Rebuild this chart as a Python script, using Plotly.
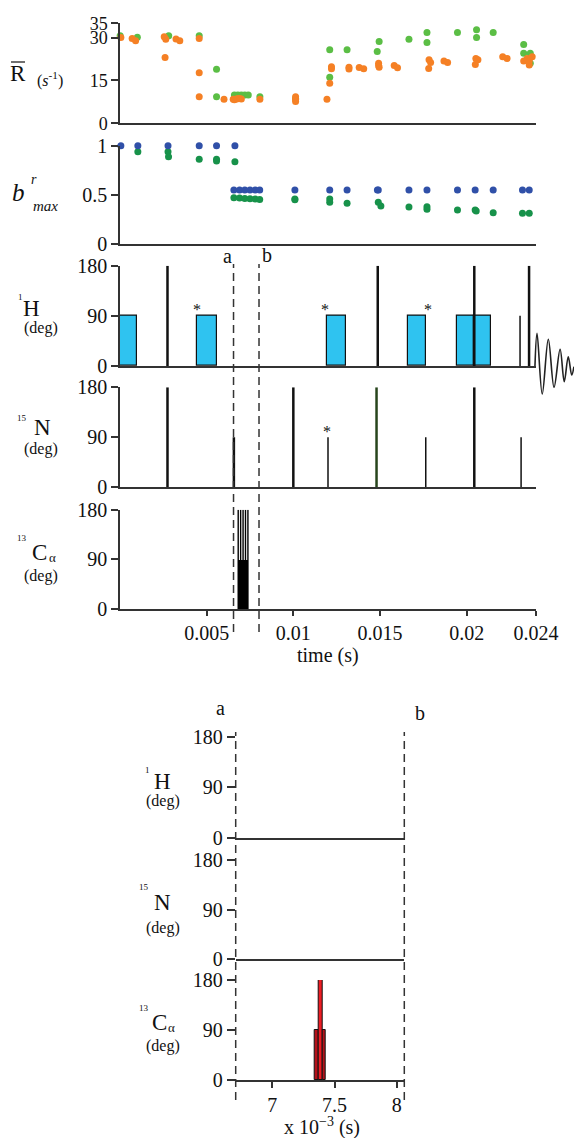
import plotly.graph_objects as go

# ---------------- data ----------------
# R-bar panel (time s, R s^-1)
R_green_t = [0.00001, 0.001, 0.00281, 0.00457, 0.00557, 0.00557, 0.0066, 0.0068, 0.007, 0.0072, 0.0074,
             0.00807, 0.01013, 0.0121, 0.0121, 0.0131, 0.01495, 0.01484, 0.01667, 0.01771, 0.01771,
             0.01947, 0.02057, 0.02057, 0.02153, 0.02329, 0.02329, 0.02367, 0.02367]
R_green_v = [30.6, 30.1, 30.6, 30.6, 18.9, 9.3, 9.9, 9.9, 9.9, 9.9, 9.9,
             9.3, 8.7, 25.7, 16.1, 25.7, 28.6, 25.1, 29.4, 31.8, 28.3,
             31.8, 32.7, 30.0, 31.8, 27.6, 24.5, 24.5, 21.0]
R_orange_t = [0.00005, 0.0007, 0.0009, 0.00255, 0.00264, 0.0026, 0.00323, 0.00345, 0.00457, 0.00457, 0.00457,
              0.006, 0.00653, 0.0066, 0.0067, 0.0068, 0.0069, 0.007, 0.00807, 0.01013, 0.01013, 0.01013,
              0.01194, 0.0121, 0.0122, 0.0122, 0.01321, 0.01321, 0.0138, 0.01406, 0.01492, 0.01492, 0.01495,
              0.01582, 0.01601, 0.01783, 0.01792, 0.01781, 0.01869, 0.0189, 0.02053, 0.02065, 0.0205,
              0.02208, 0.02233, 0.02329, 0.02349, 0.02361, 0.02378, 0.02361]
R_orange_v = [30.0, 29.7, 28.9, 30.3, 29.4, 23.0, 29.5, 28.9, 29.7, 17.7, 9.3,
              8.4, 8.4, 8.2, 8.5, 8.6, 8.7, 8.5, 8.4, 7.6, 8.4, 9.3,
              8.4, 14.0, 19.8, 19.1, 19.6, 19.0, 19.5, 19.1, 21.0, 20.2, 19.6,
              20.2, 19.4, 22.2, 21.3, 19.2, 21.8, 21.3, 22.7, 22.2, 20.6,
              23.3, 22.7, 21.8, 22.7, 20.4, 23.3, 21.8]

# b_max panel
B_blue_t = [0.00005, 0.00103, 0.00277, 0.00457, 0.00557, 0.00663,
            0.00657, 0.0069, 0.0072, 0.0075, 0.0078, 0.00806,
            0.01009, 0.0121, 0.0131, 0.01485, 0.0149, 0.01667, 0.01771, 0.01947,
            0.02049, 0.02153, 0.02322, 0.02361, 0.02414]
B_blue_v = [1.0, 1.0, 1.0, 1.0, 1.0, 1.0,
            0.551, 0.551, 0.551, 0.551, 0.551, 0.551,
            0.551, 0.551, 0.551, 0.551, 0.551, 0.551, 0.551, 0.551,
            0.551, 0.551, 0.551, 0.551, 0.534]
B_green_t = [0.00103, 0.00277, 0.0028, 0.00457, 0.00557, 0.00557, 0.00663,
             0.00657, 0.0069, 0.0072, 0.0075, 0.0078, 0.00806,
             0.01009, 0.01009, 0.0121, 0.0121, 0.0131, 0.0149, 0.01505, 0.01667,
             0.01771, 0.01771, 0.01947, 0.02049, 0.02055, 0.02153, 0.02322, 0.02361, 0.02414]
B_green_v = [0.939, 0.939, 0.888, 0.862, 0.862, 0.845, 0.838,
             0.473, 0.47, 0.465, 0.462, 0.459, 0.455,
             0.459, 0.452, 0.459, 0.426, 0.416, 0.426, 0.388, 0.378,
             0.381, 0.355, 0.348, 0.348, 0.338, 0.321, 0.314, 0.314, 0.304]

# 1H pulses
H_bar_start = [0.0, 0.00445, 0.01194, 0.01662, 0.01942, 0.02044]
H_bar_end = [0.00097, 0.0056, 0.01306, 0.01764, 0.02044, 0.02142]
H_bar_deg = [90, 90, 90, 90, 90, 90]
H_hard_t = [0.00274, 0.01487, 0.02044, 0.0236]
H_hard_deg = [180, 180, 180, 180]
H_thin_t = [0.02308]
H_thin_deg = [90]
H_star_t = [0.00447, 0.01185, 0.01775]
# FID (peaks)
FID_t = [0.02394, 0.02406, 0.02436, 0.02471, 0.02504, 0.02539, 0.02563, 0.02586, 0.02606, 0.02619]
FID_v = [0, 58.7, -50.2, 47.9, -38.2, 30.0, -28.2, 16.7, -16.2, -1.3]

# 15N pulses
N_thick_t = [0.00274, 0.00657, 0.0100, 0.02044]
N_thick_deg = [180, 90, 180, 180]
N_green_t = [0.0148]
N_green_deg = [180]
N_thin_t = [0.0120, 0.01764, 0.02314]
N_thin_deg = [90, 90, 90]
N_star_t = [0.01196]

# 13C pulses (top)
C_block = [0.00681, 0.0074]
C_block_deg = 90
C_stripe_t = [0.00682, 0.00696, 0.0071, 0.00724, 0.00738]
C_stripe_deg = [180, 180, 180, 180, 180]

# windows a / b
win_top = {"a": 0.00655, "b": 0.00802}

# zoomed 13C (ms)
Cz_start = [7.343, 7.370, 7.406]
Cz_end = [7.370, 7.406, 7.426]
Cz_deg = [90, 180, 90]
Cz_col = ["#B3121A", "#EE1C24", "#B3121A"]

top_ticks = [0.005, 0.01, 0.015, 0.02, 0.024]
top_ticktext = ["0.005", "0.01", "0.015", "0.02", "0.024"]
zoom_ticks = [7, 7.5, 8]
zoom_ticktext = ["7", "7.5", "8"]
deg_ticks = [0, 90, 180]

# ---------------- layout helpers ----------------
W, H = 574, 1138
FONT = "Liberation Serif, Times New Roman, serif"
def px(x):
    return x / W
def py(y):
    return 1 - y / H

fig = go.Figure()

def lines(t, d, ax, width, color="#111"):
    xs, ys = [], []
    for ti, di in zip(t, d):
        xs += [ti, ti, None]
        ys += [0, di, None]
    fig.add_trace(go.Scatter(x=xs, y=ys, mode="lines", line=dict(color=color, width=width),
                             xaxis="x" + ax, yaxis="y" + ax, hoverinfo="skip"))

# R panel
fig.add_trace(go.Scatter(x=R_green_t, y=R_green_v, mode="markers", marker=dict(color="#5BBE45", size=7),
                         xaxis="x", yaxis="y", cliponaxis=False))
fig.add_trace(go.Scatter(x=R_orange_t, y=R_orange_v, mode="markers", marker=dict(color="#F58025", size=7),
                         xaxis="x", yaxis="y", cliponaxis=False))
# b panel
fig.add_trace(go.Scatter(x=B_green_t, y=B_green_v, mode="markers", marker=dict(color="#17924A", size=7),
                         xaxis="x2", yaxis="y2", cliponaxis=False))
fig.add_trace(go.Scatter(x=B_blue_t, y=B_blue_v, mode="markers", marker=dict(color="#3050A8", size=7),
                         xaxis="x2", yaxis="y2", cliponaxis=False))

# 1H
fig.add_trace(go.Bar(x=[(s + e) / 2 for s, e in zip(H_bar_start, H_bar_end)], y=H_bar_deg,
                     width=[e - s for s, e in zip(H_bar_start, H_bar_end)],
                     marker=dict(color="#2FC3F0", line=dict(color="#111", width=1.2)),
                     xaxis="x3", yaxis="y3"))
lines(H_hard_t, H_hard_deg, "3", 2.5)
lines(H_thin_t, H_thin_deg, "3", 1.5)
fig.add_trace(go.Scatter(x=FID_t, y=FID_v, mode="lines", line=dict(color="#222", width=1.6, shape="spline"),
                         xaxis="x9", yaxis="y9"))

# 15N
lines(N_thick_t, N_thick_deg, "4", 2.5)
lines(N_green_t, N_green_deg, "4", 2.5, color="#27451c")
lines(N_thin_t, N_thin_deg, "4", 1.5)

# 13C top
fig.add_trace(go.Bar(x=[(C_block[0] + C_block[1]) / 2], y=[C_block_deg], width=[C_block[1] - C_block[0]],
                     marker=dict(color="#000", line=dict(width=0)), xaxis="x5", yaxis="y5"))
lines(C_stripe_t, C_stripe_deg, "5", 1.4, color="#000")

# zoomed 13C
fig.add_trace(go.Bar(x=[(s + e) / 2 for s, e in zip(Cz_start, Cz_end)], y=Cz_deg,
                     width=[e - s for s, e in zip(Cz_start, Cz_end)],
                     marker=dict(color=Cz_col, line=dict(color="#111", width=1)),
                     xaxis="x8", yaxis="y8"))
# empty traces to activate zoom panels
fig.add_trace(go.Scatter(x=[7.0], y=[0], mode="markers", marker=dict(size=0.1, opacity=0), xaxis="x6", yaxis="y6"))
fig.add_trace(go.Scatter(x=[7.0], y=[0], mode="markers", marker=dict(size=0.1, opacity=0), xaxis="x7", yaxis="y7"))

# ---------------- axes ----------------
tickfont = dict(family=FONT, size=20, color="#111")
XD = [px(120), px(536)]
def xtop(show_ticks=False, anchor="y"):
    d = dict(domain=XD, range=[0, 0.024], showgrid=False, zeroline=False, showline=True,
             linecolor="#333", linewidth=1.5, anchor=anchor, fixedrange=True, automargin=False)
    if show_ticks:
        d.update(ticks="outside", ticklen=5, tickwidth=1.5, tickcolor="#333", tickvals=top_ticks,
                 ticktext=top_ticktext, tickfont=tickfont)
    else:
        d.update(showticklabels=False, ticks="")
    return d

def yax(bottom, top, rng, tv, tt=None, anchor="x", line=True, tl=7, fs=20):
    d = dict(domain=[py(bottom), py(top)], range=rng, showgrid=False, zeroline=False, showline=line,
             linecolor="#333", linewidth=1.5, ticks="outside", ticklen=tl, tickwidth=1.5, tickcolor="#333",
             tickvals=tv, tickfont=dict(family=FONT, size=fs, color="#111"), anchor=anchor, fixedrange=True,
             automargin=False)
    if tt is not None:
        d["ticktext"] = tt
    return d

XZ = [px(235.7), px(404.3)]
def xzoom(show_ticks, anchor):
    d = dict(domain=XZ, range=[6.706, 8.061], showgrid=False, zeroline=False, showline=True,
             linecolor="#333", linewidth=1.5, anchor=anchor, fixedrange=True, automargin=False)
    if show_ticks:
        d.update(ticks="outside", ticklen=6, tickwidth=1.5, tickcolor="#333", tickvals=zoom_ticks,
                 ticktext=zoom_ticktext, tickfont=tickfont)
    else:
        d.update(showticklabels=False, ticks="")
    return d

fig.update_layout(
    xaxis=xtop(anchor="y"), yaxis=yax(123.3, 23.3, [0, 35], [0, 15, 30, 35], anchor="x", fs=18),
    xaxis2=xtop(anchor="y2"), yaxis2=yax(244.3, 145.7, [0, 1], [0, 0.5, 1], ["0", "0.5", "1"], anchor="x2"),
    xaxis3=xtop(anchor="y3"), yaxis3=yax(366, 265.7, [0, 180], deg_ticks, anchor="x3"),
    xaxis4=xtop(anchor="y4"), yaxis4=yax(487.3, 387.3, [0, 180], deg_ticks, anchor="x4"),
    xaxis5=xtop(True, anchor="y5"), yaxis5=yax(609, 509.7, [0, 180], deg_ticks, anchor="x5"),
    xaxis6=xzoom(False, "y6"), yaxis6=yax(837.7, 736.7, [0, 180], deg_ticks, anchor="x6", line=False, tl=8),
    xaxis7=xzoom(False, "y7"), yaxis7=yax(959, 860, [0, 180], deg_ticks, anchor="x7", line=False, tl=8),
    xaxis8=xzoom(True, "y8"), yaxis8=yax(1080, 980, [0, 180], deg_ticks, anchor="x8", line=False, tl=8),
    xaxis9=dict(domain=[px(530), 1], range=[(530 - 120) / (416 / 0.024), (574 - 120) / (416 / 0.024)],
                visible=False, anchor="y9", fixedrange=True, automargin=False),
    yaxis9=dict(domain=[py(400), py(265.7)], range=[-61, 180], visible=False, anchor="x9", fixedrange=True,
                automargin=False),
)

# ---------------- shapes ----------------
shapes = []
for k in ("a", "b"):
    shapes.append(dict(type="line", xref="x5", yref="paper", x0=win_top[k], x1=win_top[k],
                       y0=py(632), y1=py(264), line=dict(color="#333", width=1.5, dash="8px,5px")))
for xpx in (235.7, 404.3):
    shapes.append(dict(type="line", xref="paper", yref="paper", x0=px(xpx), x1=px(xpx),
                       y0=py(1100), y1=py(732), line=dict(color="#333", width=1.5, dash="8px,5px")))
# overline on R
shapes.append(dict(type="line", xref="paper", yref="paper", x0=px(11), x1=px(25), y0=py(62), y1=py(62),
                   line=dict(color="#222", width=1.3)))
fig.update_layout(shapes=shapes)

# ---------------- annotations ----------------
anns = []
def ann(text, x, y, size, xanchor="center", italic=False):
    if italic:
        text = "<i>" + text + "</i>"
    anns.append(dict(text=text, x=px(x), y=py(y), xref="paper", yref="paper", showarrow=False,
                     xanchor=xanchor, yanchor="middle", font=dict(family=FONT, size=size, color="#111")))

ann("R", 18, 74, 23)
ann("(<i>s</i><sup>-1</sup>)", 50, 79, 16)
ann("b", 18, 192, 25, italic=True)
ann("r", 34, 180, 14, italic=True)
ann("max", 45, 206, 15, italic=True)

def nuc(sup, letter, sub, xl, yl, xs, ys, xd, yd, xsub=None):
    ann(sup, xs, ys, 9)
    ann(letter, xl, yl, 23)
    if sub:
        ann(sub, xsub, yl + 5, 13)
    ann("(deg)", xd, yd, 16)

nuc("1", "H", None, 31.5, 308, 20.5, 297, 41, 328)
nuc("15", "N", None, 42, 428, 22, 418, 41, 449)
nuc("13", "C", "α", 39, 552, 22, 538, 41, 576, xsub=52)
nuc("1", "H", None, 162.5, 781, 147, 770, 162.5, 801)
nuc("15", "N", None, 162.5, 902, 143.5, 887, 162.5, 928)
nuc("13", "C", "α", 159.5, 1022, 143.5, 1008, 162.5, 1046, xsub=171)

ann("a", 227.3, 256, 20)
ann("b", 266.7, 255, 20)
ann("a", 220, 708, 20)
ann("b", 420, 713, 20)
ann("time (s)", 328, 656, 20)
ann("x 10<sup>−3</sup> (s)", 322, 1126, 20)

for t in H_star_t:
    anns.append(dict(text="*", x=t, y=90, xref="x3", yref="y3", showarrow=False, yanchor="middle", yshift=6,
                     font=dict(family=FONT, size=16, color="#111")))
for t in N_star_t:
    anns.append(dict(text="*", x=t, y=90, xref="x4", yref="y4", showarrow=False, yanchor="middle", yshift=6,
                     font=dict(family=FONT, size=16, color="#111")))
fig.update_layout(annotations=anns)

fig.update_layout(width=W, height=H, autosize=False,
                  margin=dict(l=0, r=0, t=0, b=0, pad=0, autoexpand=False),
                  paper_bgcolor="white", plot_bgcolor="rgba(0,0,0,0)", showlegend=False,
                  barmode="overlay", bargap=0)

fig.write_html("out.html", config={"displayModeBar": False},
               post_script="document.body.style.margin='0';document.body.style.overflow='hidden';")
